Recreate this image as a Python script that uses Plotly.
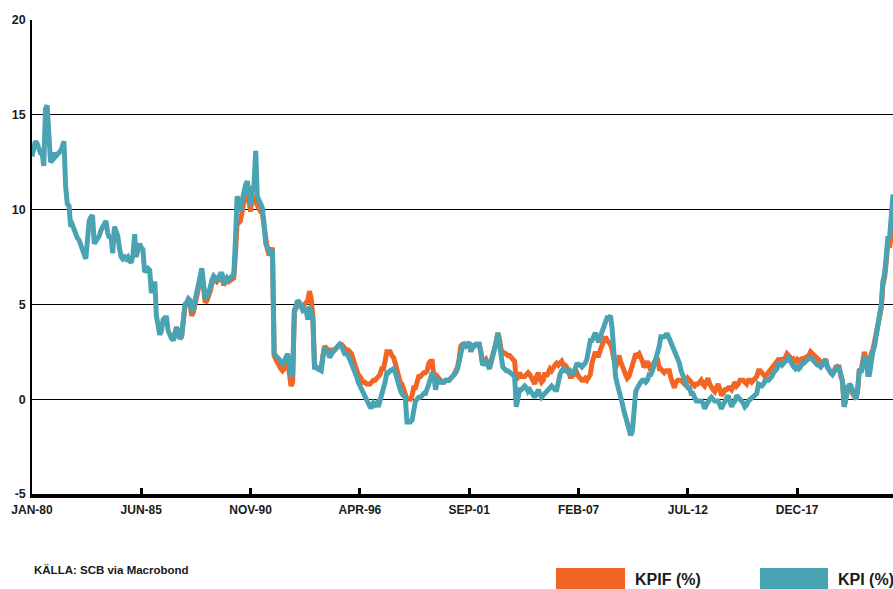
import pandas as pd
import plotly.graph_objects as go

# KPI (%) monthly, Jan 1980 - Sep 2022 (one row per year)
kpi = [
    12.8, 13.3, 13.6, 13.5, 13.2, 13.0, 13.0, 12.3, 15.3, 15.5, 14.0, 12.5,  # 1980
    12.6, 13.0, 12.8, 12.9, 13.0, 13.1, 13.3, 13.6, 11.2, 10.3, 10.2, 9.1,   # 1981
    9.2, 8.9, 8.6, 8.5, 8.4, 8.1, 7.9, 7.6, 7.4, 8.4, 9.4, 9.6,              # 1982
    9.7, 8.2, 8.3, 8.5, 8.6, 8.9, 9.1, 9.2, 9.4, 8.8, 8.5, 8.6,              # 1983
    7.7, 9.1, 8.9, 8.6, 8.0, 7.5, 7.4, 7.5, 7.4, 7.5, 7.3, 7.2,              # 1984
    7.6, 8.7, 7.5, 8.0, 8.2, 8.0, 7.9, 6.7, 6.8, 6.9, 6.8, 5.6,              # 1985
    5.9, 6.2, 4.4, 3.9, 3.4, 3.6, 4.2, 4.3, 4.3, 3.6, 3.3, 3.2,              # 1986
    3.1, 3.4, 3.8, 3.5, 3.2, 3.3, 4.3, 5.0, 5.1, 5.3, 5.2, 4.6,              # 1987
    4.8, 5.2, 5.7, 6.2, 6.6, 6.9, 6.1, 5.3, 5.4, 5.6, 5.9, 6.3,              # 1988
    6.5, 6.4, 6.3, 6.4, 6.6, 6.6, 6.1, 6.2, 6.4, 6.3, 6.4, 6.5,              # 1989
    6.6, 8.5, 10.7, 10.4, 9.9, 10.5, 11.0, 11.3, 11.5, 10.8, 10.2, 11.1,     # 1990
    11.3, 13.1, 10.7, 10.5, 10.3, 10.1, 9.3, 8.2, 8.0, 7.7, 7.6, 7.9,        # 1991
    2.4, 2.3, 2.2, 2.1, 2.0, 1.9, 2.0, 2.3, 2.4, 1.8, 1.2, 1.4,              # 1992
    4.7, 4.9, 5.2, 5.1, 4.8, 4.7, 4.8, 4.7, 4.2, 4.9, 4.5, 4.3,              # 1993
    1.6, 1.7, 1.6, 1.5, 1.5, 2.2, 2.7, 2.6, 2.5, 2.2, 2.4, 2.5,              # 1994
    2.6, 2.7, 2.8, 2.9, 2.8, 2.6, 2.4, 2.4, 2.3, 2.1, 1.9, 1.7,              # 1995
    1.4, 1.2, 0.9, 0.7, 0.5, 0.3, 0.1, 0.0, -0.2, -0.4, -0.4, -0.2,          # 1996
    -0.3, -0.2, -0.4, -0.1, 0.2, 0.5, 0.9, 1.4, 1.4, 1.5, 1.6, 1.6,          # 1997
    1.4, 1.0, 0.8, 0.5, 0.3, 0.2, 0.1, -1.2, -1.2, -1.2, -1.1, -0.6,         # 1998
    -0.1, 0.0, 0.1, 0.1, 0.2, 0.3, 0.3, 0.5, 0.8, 1.1, 1.4, 1.2,             # 1999
    0.5, 1.0, 1.0, 0.9, 0.9, 0.9, 1.0, 1.0, 1.0, 1.1, 1.2, 1.3,              # 2000
    1.4, 1.6, 2.0, 2.6, 2.8, 2.9, 2.8, 2.9, 3.0, 2.5, 2.9, 2.8,              # 2001
    2.9, 2.9, 2.9, 2.4, 1.8, 1.9, 2.0, 1.8, 1.6, 1.9, 2.3, 2.4,              # 2002
    3.0, 3.5, 3.0, 2.2, 1.7, 1.6, 1.5, 1.5, 1.4, 1.4, 1.3, 1.2,              # 2003
    -0.4, 0.2, 0.5, 0.5, 0.6, 0.7, 0.6, 0.4, 0.5, 0.4, 0.3, 0.1,             # 2004
    0.3, 0.5, 0.3, 0.1, 0.2, 0.3, 0.4, 0.5, 0.6, 0.7, 0.6, 0.5,              # 2005
    0.5, 1.0, 1.3, 1.5, 1.6, 1.5, 1.5, 1.4, 1.5, 1.4, 1.4, 1.6,              # 2006
    1.9, 1.8, 1.8, 1.7, 1.8, 1.9, 2.1, 2.5, 3.1, 3.1, 3.3, 3.5,              # 2007
    3.2, 3.0, 3.3, 3.6, 3.9, 4.2, 4.3, 4.3, 4.4, 3.7, 2.1, 1.2,              # 2008
    0.8, 0.5, 0.2, -0.2, -0.6, -0.9, -1.3, -1.6, -1.9, -1.7, -0.8, 0.4,      # 2009
    0.6, 0.8, 0.9, 1.0, 1.0, 0.9, 1.0, 1.3, 1.3, 1.5, 1.8, 2.3,              # 2010
    2.4, 2.8, 3.3, 3.3, 3.3, 3.4, 3.4, 3.2, 3.0, 2.8, 2.6, 2.3,              # 2011
    2.1, 1.9, 1.5, 1.3, 1.0, 0.8, 0.6, 0.6, 0.3, 0.3, 0.0, -0.1,             # 2012
    -0.1, -0.1, -0.1, -0.2, -0.5, -0.3, -0.1, 0.0, 0.1, 0.0, -0.1, -0.1,     # 2013
    -0.1, -0.3, -0.5, -0.3, -0.1, 0.1, 0.2, -0.1, -0.4, -0.2, -0.1, 0.2,     # 2014
    0.1, 0.0, -0.1, -0.2, -0.4, -0.3, -0.1, 0.0, 0.1, 0.2, 0.3, 0.3,         # 2015
    0.8, 0.7, 0.7, 0.8, 1.0, 1.0, 1.0, 1.1, 1.2, 1.4, 1.5, 1.6,              # 2016
    1.9, 1.9, 1.8, 1.9, 2.0, 2.1, 2.2, 2.0, 1.8, 1.7, 1.6, 1.7,              # 2017
    1.6, 1.7, 1.9, 1.9, 2.0, 2.1, 2.1, 2.2, 2.1, 2.0, 1.9, 1.8,              # 2018
    1.8, 1.7, 1.8, 2.0, 2.1, 1.7, 1.5, 1.4, 1.3, 1.5, 1.6, 1.7,              # 2019
    1.6, 1.3, 0.9, -0.4, 0.0, 0.6, 0.8, 0.7, 0.4, 0.2, 0.0, 0.5,             # 2020
    1.6, 1.4, 1.7, 2.2, 2.2, 1.3, 1.3, 2.1, 2.5, 2.8, 3.3, 3.9,              # 2021
    4.2, 5.0, 6.2, 6.6, 7.5, 8.6, 8.5, 9.5, 10.8,                            # 2022
]

# KPIF (%) monthly, Jan 1987 - Sep 2022
kpif = [
    3.1, 3.4, 3.8, 3.5, 3.2, 3.3, 4.2, 4.9, 5.0, 5.2, 5.0, 4.4,              # 1987
    4.6, 5.0, 5.5, 6.0, 6.4, 6.7, 5.9, 5.1, 5.2, 5.4, 5.7, 6.1,              # 1988
    6.3, 6.3, 6.2, 6.3, 6.5, 6.5, 6.0, 6.2, 6.3, 6.2, 6.3, 6.3,              # 1989
    6.4, 7.7, 9.3, 9.3, 9.4, 9.9, 10.4, 10.9, 11.0, 10.4, 9.9, 10.7,         # 1990
    10.6, 10.4, 10.2, 10.1, 9.9, 9.8, 9.1, 8.1, 7.9, 7.6, 7.7, 8.0,          # 1991
    2.3, 2.1, 1.9, 1.7, 1.6, 1.5, 1.6, 2.0, 2.3, 1.4, 0.7, 0.9,              # 1992
    4.6, 4.8, 5.2, 5.1, 4.9, 4.9, 5.0, 5.1, 5.2, 5.7, 5.3, 4.4,              # 1993
    1.7, 1.7, 1.6, 1.6, 1.6, 2.3, 2.8, 2.7, 2.6, 2.4, 2.6, 2.6,              # 1994
    2.6, 2.7, 2.8, 2.9, 2.9, 2.8, 2.7, 2.6, 2.6, 2.5, 2.4, 2.1,              # 1995
    1.8, 1.6, 1.3, 1.2, 1.0, 0.9, 0.9, 0.8, 0.8, 0.8, 0.9, 1.0,              # 1996
    1.0, 1.1, 1.2, 1.3, 1.6, 1.6, 2.0, 2.5, 2.5, 2.5, 2.3, 2.2,              # 1997
    1.9, 1.5, 1.3, 0.9, 0.8, 0.5, 0.3, 0.0, 0.0, 0.0, 0.2, 0.6,              # 1998
    0.6, 0.9, 1.2, 1.2, 1.3, 1.4, 1.4, 1.5, 1.9, 2.0, 2.0, 1.2,              # 1999
    1.0, 1.2, 1.1, 1.0, 0.9, 0.9, 1.0, 1.0, 1.0, 1.1, 1.2, 1.3,              # 2000
    1.5, 1.7, 2.1, 2.8, 2.9, 2.9, 2.8, 2.9, 3.0, 2.5, 2.9, 2.8,              # 2001
    2.9, 2.9, 2.9, 2.5, 1.9, 2.0, 2.1, 1.9, 1.7, 2.0, 2.3, 2.5,              # 2002
    3.0, 3.5, 3.2, 2.6, 2.5, 2.4, 2.4, 2.3, 2.3, 2.2, 2.1, 2.0,              # 2003
    1.0, 1.3, 1.4, 1.2, 1.2, 1.2, 1.3, 1.4, 1.3, 1.1, 1.0, 0.8,              # 2004
    1.2, 1.4, 1.1, 0.9, 1.0, 1.4, 1.2, 1.5, 1.6, 1.5, 1.7, 1.8,              # 2005
    1.9, 1.8, 1.9, 2.0, 1.8, 1.8, 1.7, 1.5, 1.2, 1.2, 1.3, 1.3,              # 2006
    1.4, 1.2, 1.1, 1.0, 1.0, 1.1, 1.0, 1.2, 1.3, 1.9, 2.2, 2.5,              # 2007
    2.3, 2.3, 2.6, 2.9, 3.0, 3.3, 3.1, 3.0, 2.9, 2.6, 1.8, 1.6,              # 2008
    2.0, 2.3, 2.0, 1.7, 1.4, 1.3, 1.1, 1.2, 1.5, 1.9, 2.1, 2.4,              # 2009
    2.3, 2.4, 2.1, 2.0, 1.7, 1.8, 2.0, 1.7, 1.5, 1.8, 2.0, 2.1,              # 2010
    2.1, 1.6, 1.6, 1.5, 1.4, 1.5, 1.5, 1.5, 1.1, 0.9, 0.6, 0.9,              # 2011
    1.0, 1.0, 1.0, 0.9, 0.8, 0.9, 1.1, 1.0, 0.9, 0.8, 0.7, 0.8,              # 2012
    0.8, 0.9, 1.0, 0.8, 0.7, 0.9, 1.1, 0.8, 0.6, 0.5, 0.4, 0.6,              # 2013
    0.8, 0.5, 0.2, 0.3, 0.5, 0.5, 0.6, 0.6, 0.5, 0.7, 0.9, 0.7,              # 2014
    0.8, 1.0, 1.0, 1.0, 0.9, 0.8, 1.0, 1.0, 0.9, 1.0, 1.1, 1.2,              # 2015
    1.5, 1.5, 1.4, 1.3, 1.2, 1.3, 1.4, 1.5, 1.7, 1.8, 1.9, 2.0,              # 2016
    1.8, 2.1, 2.1, 2.1, 2.2, 2.4, 2.3, 2.2, 2.0, 2.1, 2.0, 2.1,              # 2017
    2.0, 1.9, 2.2, 2.1, 2.2, 2.3, 2.3, 2.5, 2.4, 2.3, 2.2, 2.1,              # 2018
    2.0, 1.9, 1.9, 2.0, 2.1, 1.7, 1.6, 1.4, 1.3, 1.5, 1.7, 1.7,              # 2019
    1.7, 1.2, 1.0, -0.4, 0.0, 0.7, 0.6, 0.6, 0.3, 0.2, 0.0, 0.5,             # 2020
    1.6, 1.5, 1.9, 2.5, 2.1, 1.5, 1.4, 2.4, 2.6, 3.1, 3.6, 4.1,              # 2021
    4.3, 4.8, 6.0, 6.4, 7.2, 8.3, 8.0, 8.9, 9.3,                             # 2022
]

kpi_start = "1980-01-01"
kpif_start = "1987-01-01"
tick_dates = ["1980-01-01", "1985-06-01", "1990-11-01", "1996-04-01",
              "2001-09-01", "2007-02-01", "2012-07-01", "2017-12-01"]
tick_labels = ["JAN-80", "JUN-85", "NOV-90", "APR-96", "SEP-01", "FEB-07", "JUL-12", "DEC-17"]
y_ticks = [-5, 0, 5, 10, 15, 20]
y_tick_labels = ["-5", "0", "5", "10", "15", "20"]
series_names = ["KPIF (%)", "KPI (%)"]
source_text = "KÄLLA: SCB via Macrobond"

ORANGE = "#F26522"
TEAL = "#4AA3B3"
FONT = "Liberation Sans, Arial, sans-serif"
TXT = "#1a1a1a"

kpi_dates = pd.date_range(kpi_start, periods=len(kpi), freq="MS")
kpif_dates = pd.date_range(kpif_start, periods=len(kpif), freq="MS")

fig = go.Figure()
fig.add_trace(go.Scatter(x=kpif_dates, y=kpif, mode="lines", name=series_names[0],
                         line=dict(color=ORANGE, width=5), hoverinfo="skip"))
fig.add_trace(go.Scatter(x=kpi_dates, y=kpi, mode="lines", name=series_names[1],
                         line=dict(color=TEAL, width=5), hoverinfo="skip"))

W, H = 893, 589
L, R, T, B = 32, 0, 20, 95
pw, ph = W - L - R, H - T - B


def px(xp):
    return (xp - L) / pw


def py(yp):
    return (H - B - yp) / ph


fig.update_layout(
    width=W, height=H,
    margin=dict(l=L, r=R, t=T, b=B, pad=0),
    paper_bgcolor="white", plot_bgcolor="white",
    showlegend=False,
    font=dict(family=FONT, color=TXT),
    xaxis=dict(
        type="date",
        range=[kpi_dates[0], kpi_dates[-1]],
        tickvals=tick_dates, ticktext=tick_labels,
        tickfont=dict(family=FONT, size=12, color=TXT, weight="bold"),
        ticks="inside", ticklen=6, tickwidth=2.5, tickcolor="black",
        ticklabelstandoff=2,
        showline=True, linecolor="black", linewidth=4,
        showgrid=False, zeroline=False,
    ),
    yaxis=dict(
        range=[-5, 20], tickvals=y_ticks, ticktext=y_tick_labels,
        tickfont=dict(family=FONT, size=12.5, color=TXT, weight="bold"),
        ticks="", ticklabelstandoff=2,
        showline=True, linecolor="black", linewidth=1.5,
        showgrid=True, gridcolor="black", gridwidth=1.2,
        zeroline=False,
    ),
    shapes=[
        dict(type="rect", xref="paper", yref="paper",
             x0=px(556), x1=px(625), y0=py(592), y1=py(568),
             fillcolor=ORANGE, line=dict(width=0)),
        dict(type="rect", xref="paper", yref="paper",
             x0=px(760), x1=px(828), y0=py(592), y1=py(568),
             fillcolor=TEAL, line=dict(width=0)),
    ],
    annotations=[
        dict(text=source_text, xref="paper", yref="paper", x=px(32), y=py(570),
             xanchor="left", yanchor="middle", showarrow=False,
             font=dict(family=FONT, size=11.5, color=TXT, weight="bold")),
        dict(text=series_names[0], xref="paper", yref="paper", x=px(633), y=py(579),
             xanchor="left", yanchor="middle", showarrow=False,
             font=dict(family=FONT, size=16, color=TXT, weight="bold")),
        dict(text=series_names[1], xref="paper", yref="paper", x=px(836), y=py(579),
             xanchor="left", yanchor="middle", showarrow=False,
             font=dict(family=FONT, size=16, color=TXT, weight="bold")),
    ],
)

fig.write_html("out.html", config={"displayModeBar": False},
               post_script="document.body.style.margin='0';document.body.style.overflow='hidden';")
